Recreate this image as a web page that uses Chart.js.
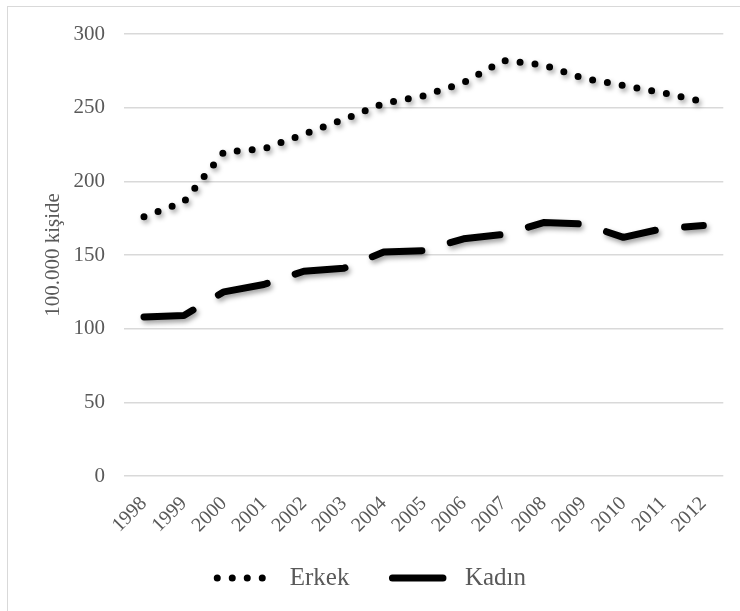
<!DOCTYPE html>
<html>
<head>
<meta charset="utf-8">
<script src="https://cdn.jsdelivr.net/npm/chart.js@4/dist/chart.umd.min.js"></script>
<style>
  html, body { margin: 0; padding: 0; background: #ffffff; }
  #wrap { position: relative; width: 740px; height: 611px; overflow: hidden; }
  #frame { position: absolute; left: 7px; top: 6px; width: 760px; height: 640px;
           border: 1px solid #d9d9d9; box-sizing: border-box; }
  #c { position: absolute; left: 0; top: 0; }
</style>
</head>
<body>
<div id="wrap">
  <div id="frame"></div>
  <canvas id="c" width="740" height="611"></canvas>
</div>
<script>
// Yıllar
const years = ['1998', '1999', '2000', '2001', '2002', '2003', '2004', '2005',
               '2006', '2007', '2008', '2009', '2010', '2011', '2012'];
// 100.000 kişide oranlar
const erkek = [176, 186, 220, 222, 232, 242, 253, 258, 267, 282, 279, 270, 265, 260, 254];
const kadin = [108, 109, 125, 130, 139, 141, 152, 153, 161, 164, 172, 171, 162, 168, 170];
// Y ekseni sınırları ve adımı
const yMin = 0, yMax = 300, yStep = 50;

const FONT = "'Liberation Serif', 'Times New Roman', serif";
const TEXT = '#595959';

// Çizgilerin altına yumuşak gölge
const softShadow = {
  id: 'softShadow',
  beforeDatasetsDraw(chart) {
    const ctx = chart.ctx;
    ctx.save();
    ctx.shadowColor = 'rgba(0,0,0,0.38)';
    ctx.shadowBlur = 5;
    ctx.shadowOffsetX = 2;
    ctx.shadowOffsetY = 3;
  },
  afterDatasetsDraw(chart) {
    chart.ctx.restore();
  }
};

// Gösterge örnek çizgileri, veri serisinin kesik çizgi stilini kullansın
function legendItems(chart) {
  const items = Chart.defaults.plugins.legend.labels.generateLabels(chart);
  items.forEach(item => {
    const ds = chart.data.datasets[item.datasetIndex];
    item.pointStyle = 'line';
    item.lineDash = ds.borderDash;
    item.lineCap = ds.borderCapStyle;
    item.lineWidth = ds.borderWidth;
    item.strokeStyle = ds.borderColor;
  });
  return items;
}

new Chart(document.getElementById('c'), {
  type: 'line',
  data: {
    labels: years,
    datasets: [
      {
        label: 'Erkek',
        data: erkek,
        borderColor: '#000000',
        backgroundColor: '#000000',
        borderWidth: 7,
        borderDash: [0, 15],
        borderCapStyle: 'round',
        borderJoinStyle: 'round',
        pointRadius: 0,
        tension: 0,
        clip: false
      },
      {
        label: 'Kadın',
        data: kadin,
        borderColor: '#000000',
        backgroundColor: '#000000',
        borderWidth: 7,
        borderDash: [50.5, 29.5],
        borderCapStyle: 'round',
        borderJoinStyle: 'round',
        pointRadius: 0,
        tension: 0,
        clip: false
      }
    ]
  },
  options: {
    responsive: false,
    animation: false,
    devicePixelRatio: 1,
    layout: { padding: { left: 20, top: 34, right: 16.7, bottom: 10.5 } },
    plugins: {
      tooltip: { enabled: false },
      legend: {
        position: 'bottom',
        labels: {
          usePointStyle: true,
          pointStyle: 'line',
          pointStyleWidth: 60,
          padding: 43,
          color: TEXT,
          font: { family: FONT, size: 25, lineHeight: 1 },
          generateLabels: legendItems
        }
      }
    },
    scales: {
      x: {
        type: 'category',
        offset: true,
        grid: { display: false, drawTicks: false },
        border: { display: false },
        ticks: {
          autoSkip: false,
          minRotation: 45,
          maxRotation: 45,
          padding: 16,
          color: TEXT,
          font: { family: FONT, size: 20 }
        },
        afterFit(scale) {
          scale.height = 46.5;
          // eğik yıl etiketleri eksen kutusunun altına taşabilsin
          scale._computeLabelArea = () => undefined;
        }
      },
      y: {
        min: yMin,
        max: yMax,
        grid: { color: '#d9d9d9', lineWidth: 1.5, drawTicks: false },
        border: { display: false },
        ticks: {
          stepSize: yStep,
          padding: 19,
          color: TEXT,
          font: { family: FONT, size: 21 }
        },
        title: {
          display: true,
          text: '100.000 kişide',
          color: TEXT,
          font: { family: FONT, size: 21 },
          padding: { top: 20.7, bottom: 0 }
        },
        afterFit(scale) { scale.width = 104; }
      }
    }
  },
  plugins: [softShadow]
});
</script>
</body>
</html>
